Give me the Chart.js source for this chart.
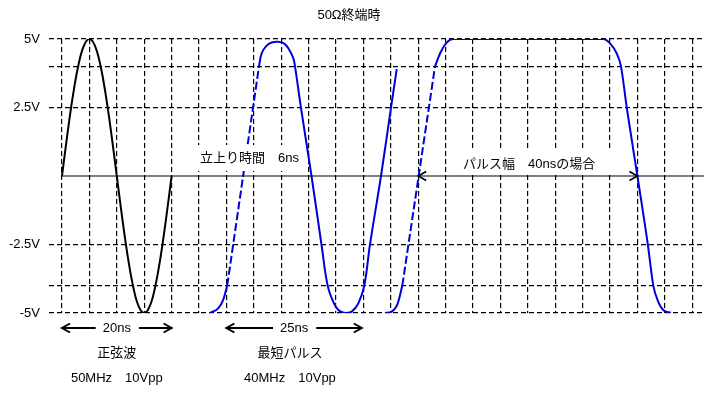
<!DOCTYPE html>
<html>
<head>
<meta charset="utf-8">
<script src="https://cdn.jsdelivr.net/npm/chart.js@4.4.1/dist/chart.umd.min.js"></script>
<style>
  html, body { margin: 0; padding: 0; background: #fff; }
  #wrap { width: 706px; height: 393px; position: relative; }
</style>
</head>
<body>
<div id="wrap"><canvas id="c" width="706" height="393"></canvas></div>
<script>
// ---- data (time in ns, voltage in V) ----
const sineTime = [0,1,2,3,4,5,6,7,8,9,10,11,12,13,14,15,16,17,18,19,20];
const sineVolt = [0,1.55,2.94,4.05,4.76,5,4.76,4.05,2.94,1.55,0,-1.55,-2.94,-4.05,-4.76,-5,-4.76,-4.05,-2.94,-1.55,0];

const pulse1FootTime = [27.0, 28.5, 29.4, 30.15];
const pulse1FootVolt = [-5, -4.83, -4.53, -4.0];
const pulse1RampTime = [30.15, 35.95];
const pulse1RampVolt = [-4, 4];
const pulse1BodyTime = [35.95, 36.44, 37.35, 38.4, 39.47, 40.5, 41.3, 42.2, 42.52, 43.6, 45.53, 47.35, 48.48, 49.5, 50.42, 51.64, 52.86, 54.07, 55.16, 56.2, 58.21, 60.04, 61.08];
const pulse1BodyVolt = [4, 4.48, 4.76, 4.88, 4.9, 4.84, 4.66, 4.3, 4.0, 2.5, 0, -2.5, -4, -4.59, -4.89, -5, -4.95, -4.65, -4, -2.5, 0, 2.5, 3.9];

const pulse2FootTime = [58.94, 60.16, 61.26, 62.1];
const pulse2FootVolt = [-5, -4.95, -4.65, -4.0];
const pulse2RampTime = [62.1, 68.07];
const pulse2RampVolt = [-4, 4];
const pulse2BodyTime = [68.07, 69.0, 70.2, 71.35, 98.78, 100.0, 101.2, 102.0, 103.05, 105.0, 106.9, 107.9, 108.8, 109.7, 111.1];
const pulse2BodyVolt = [4, 4.48, 4.87, 5, 5, 4.84, 4.48, 4.0, 2.5, 0, -2.5, -4, -4.59, -4.89, -5];

const zeroLineTime = [0, 117.15];
const zeroLineVolt = [0, 0];

const xGridValues = [0,5,10,15,20,25,30,35,40,45,50,55,60,65,70,75,80,85,90,95,100,105,110,115];
const yTickValues = [5, 4, 2.5, 0, -2.5, -4, -5];
const yTickLabels = ['5V', '', '2.5V', '', '-2.5V', '', '-5V'];

const titleText = '50Ω終端時';
const riseText = '立上り時間　6ns';
const widthText = 'パルス幅　40nsの場合';
const sineSpanText = '20ns';
const pulseSpanText = '25ns';
const sineName = '正弦波';
const sineSpec = '50MHz　10Vpp';
const pulseName = '最短パルス';
const pulseSpec = '40MHz　10Vpp';

// ---- helpers ----
const FONT = "'Liberation Sans', 'Noto Sans CJK JP', sans-serif";
Chart.defaults.font.family = FONT;
const zip = (t, v) => t.map((ti, i) => ({ x: ti, y: v[i] }));
const BLUE = 'rgb(0,0,220)';

function ds(t, v, color, width, dash, mono) {
  return {
    data: zip(t, v),
    borderColor: color,
    borderWidth: width,
    borderDash: dash || [],
    pointRadius: 0,
    fill: false,
    cubicInterpolationMode: mono ? 'monotone' : 'default',
    tension: 0.4
  };
}

function head(ctx, x, y, dir) {
  ctx.beginPath();
  ctx.moveTo(x - dir * 8, y - 4.5);
  ctx.lineTo(x, y);
  ctx.lineTo(x - dir * 8, y + 4.5);
  ctx.stroke();
}

function spanArrow(ctx, x0, x1, y, label) {
  const cx = (x0 + x1) / 2;
  const w = ctx.measureText(label).width;
  ctx.beginPath();
  ctx.moveTo(x0, y); ctx.lineTo(cx - w / 2 - 7, y);
  ctx.moveTo(cx + w / 2 + 8, y); ctx.lineTo(x1, y);
  ctx.stroke();
  head(ctx, x0, y, -1);
  head(ctx, x1, y, 1);
  ctx.fillText(label, cx, y);
}

const annot = {
  id: 'annot',
  afterDatasetsDraw(chart) {
    const { ctx, scales: { x, y } } = chart;
    ctx.save();
    // white text boxes
    ctx.fillStyle = '#fff';
    ctx.fillRect(197, 145, 104, 26);
    ctx.fillRect(447, 150, 165, 24);

    ctx.fillStyle = '#000';
    ctx.strokeStyle = '#000';
    ctx.font = '13px ' + FONT;
    ctx.textBaseline = 'middle';
    ctx.textAlign = 'center';
    ctx.fillText(titleText, 349, 15);
    ctx.textAlign = 'left';
    ctx.fillText(riseText, 200, 158);
    ctx.fillText(widthText, 463, 164);

    // 40ns arrow on the zero line
    ctx.lineWidth = 1.6;
    const y0 = y.getPixelForValue(0);
    head(ctx, x.getPixelForValue(65), y0, -1);
    head(ctx, x.getPixelForValue(105), y0, 1);

    // span arrows below plot
    ctx.textAlign = 'center';
    ctx.lineWidth = 2;
    spanArrow(ctx, x.getPixelForValue(0), x.getPixelForValue(20), 328, sineSpanText);
    spanArrow(ctx, x.getPixelForValue(30), x.getPixelForValue(54.7), 328, pulseSpanText);

    const sx = x.getPixelForValue(10);
    const px = x.getPixelForValue(41.6);
    ctx.fillText(sineName, sx, 353);
    ctx.fillText(sineSpec, sx, 378);
    ctx.fillText(pulseName, px, 353);
    ctx.fillText(pulseSpec, px, 378);
    ctx.restore();
  }
};

new Chart(document.getElementById('c'), {
  type: 'line',
  data: {
    datasets: [
      ds(zeroLineTime, zeroLineVolt, '#000', 1.2),
      ds(sineTime, sineVolt, '#000', 2),
      ds(pulse1FootTime, pulse1FootVolt, BLUE, 2, null, true),
      ds(pulse1RampTime, pulse1RampVolt, BLUE, 2, [8, 3]),
      ds(pulse1BodyTime, pulse1BodyVolt, BLUE, 2),
      ds(pulse2FootTime, pulse2FootVolt, BLUE, 2, null, true),
      ds(pulse2RampTime, pulse2RampVolt, BLUE, 2, [8, 3]),
      ds(pulse2BodyTime, pulse2BodyVolt, BLUE, 2, null, true)
    ]
  },
  options: {
    responsive: false,
    animation: false,
    devicePixelRatio: 1,
    layout: { padding: { top: 39, right: 2, bottom: 80, left: 0 } },
    plugins: { legend: { display: false }, tooltip: { enabled: false }, title: { display: false } },
    scales: {
      x: {
        type: 'linear',
        min: -2.37,
        max: 117.15,
        afterBuildTicks: (axis) => { axis.ticks = xGridValues.map(v => ({ value: v })); },
        afterFit: (axis) => { axis.height = 0; },
        ticks: { display: false },
        grid: { color: '#000', lineWidth: 1.2, drawTicks: false },
        border: { display: false, dash: [5, 3] }
      },
      y: {
        type: 'linear',
        min: -5,
        max: 5,
        afterBuildTicks: (axis) => { axis.ticks = yTickValues.map(v => ({ value: v })); },
        afterFit: (axis) => { axis.width = 49; },
        ticks: {
          padding: 9,
          color: '#000',
          font: { size: 13, family: FONT },
          callback: (value) => {
            const i = yTickValues.indexOf(value);
            return i >= 0 ? yTickLabels[i] : '';
          }
        },
        grid: {
          color: (c) => (c.tick && c.tick.value === 0) ? 'rgba(0,0,0,0)' : '#000',
          lineWidth: 1.2,
          drawTicks: false
        },
        border: { display: false, dash: [5, 3] }
      }
    }
  },
  plugins: [annot]
});
</script>
</body>
</html>
